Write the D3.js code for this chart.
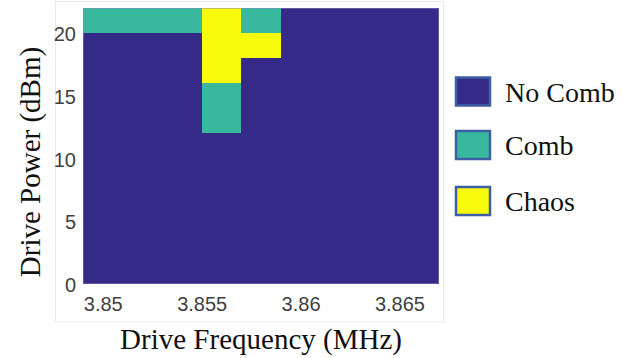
<!DOCTYPE html>
<html><head><meta charset="utf-8">
<script src="https://cdn.jsdelivr.net/npm/d3@7"></script>
<style>html,body{margin:0;padding:0;background:#fff;}svg{display:block;}</style>
</head><body>
<svg id="c" width="644" height="358"></svg>
<script>
// Data
const freqCenters = [3.850, 3.852, 3.854, 3.856, 3.858, 3.860, 3.862, 3.864, 3.866]; // MHz
const powerCenters = [21, 19, 17, 15, 13, 11, 9, 7, 5, 3, 1]; // dBm
// state per row (top to bottom), per column: 0 = No Comb, 1 = Comb, 2 = Chaos
const states = [
  [1,1,1,2,1,0,0,0,0],
  [0,0,0,2,2,0,0,0,0],
  [0,0,0,2,0,0,0,0,0],
  [0,0,0,1,0,0,0,0,0],
  [0,0,0,1,0,0,0,0,0],
  [0,0,0,0,0,0,0,0,0],
  [0,0,0,0,0,0,0,0,0],
  [0,0,0,0,0,0,0,0,0],
  [0,0,0,0,0,0,0,0,0],
  [0,0,0,0,0,0,0,0,0],
  [0,0,0,0,0,0,0,0,0]
];
const stateLabels = ["No Comb", "Comb", "Chaos"];
const stateColors = ["#352a87", "#38b99e", "#f9fb0e"];
const xTicks = [3.85, 3.855, 3.86, 3.865];
const yTicks = [0, 5, 10, 15, 20];
const cellW = 0.002, cellH = 2;

const svg = d3.select("#c");
const L = 83, R = 439, T = 8, B = 284;
const x = d3.scaleLinear().domain([3.849, 3.867]).range([L, R]);
const y = d3.scaleLinear().domain([0, 22]).range([B, T]);
const color = d3.scaleOrdinal().domain([0,1,2]).range(stateColors);

// panel frame
svg.append("rect").attr("x", 55.5).attr("y", 1.5).attr("width", 388).attr("height", 320.5)
  .attr("fill", "none").attr("stroke", "#e9e9e9").attr("stroke-width", 1);

const cells = [];
powerCenters.forEach((p, i) => freqCenters.forEach((f, j) => cells.push({f, p, s: states[i][j]})));
svg.append("g").attr("shape-rendering", "crispEdges").selectAll("rect").data(cells).join("rect")
  .attr("x", d => Math.round(x(d.f - cellW/2)))
  .attr("y", d => Math.round(y(d.p + cellH/2)))
  .attr("width", d => Math.round(x(d.f + cellW/2)) - Math.round(x(d.f - cellW/2)))
  .attr("height", d => Math.round(y(d.p - cellH/2)) - Math.round(y(d.p + cellH/2)))
  .attr("fill", d => color(d.s));

svg.append("rect").attr("x", L + 0.5).attr("y", T + 0.5).attr("width", R - L - 1).attr("height", B - T - 1)
  .attr("fill", "none").attr("stroke", "#8e88bd").attr("stroke-width", 1).attr("opacity", 0.5);

// axes
const xAxis = d3.axisBottom(x).tickValues(xTicks).tickSize(0).tickPadding(13).tickFormat(d3.format("~g"));
const gx = svg.append("g").attr("transform", `translate(0,${B})`).call(xAxis);
gx.select(".domain").remove();
gx.selectAll("text").attr("font-family", "Liberation Sans, Arial, sans-serif").attr("font-size", 20).attr("fill", "#404040");

const yAxis = d3.axisLeft(y).tickValues(yTicks).tickSize(0).tickPadding(7);
const gy = svg.append("g").attr("transform", `translate(${L},0)`).call(yAxis);
gy.select(".domain").remove();
gy.selectAll("text").attr("font-family", "Liberation Sans, Arial, sans-serif").attr("font-size", 20).attr("fill", "#404040").attr("dy", "0.38em");

// titles
svg.append("text").attr("x", (L + R) / 2).attr("y", 349).attr("text-anchor", "middle")
  .attr("font-family", "Liberation Serif, Times New Roman, serif").attr("font-size", 29).attr("fill", "#111")
  .text("Drive Frequency (MHz)");
svg.append("text").attr("transform", "translate(40,162) rotate(-90)").attr("text-anchor", "middle")
  .attr("font-family", "Liberation Serif, Times New Roman, serif").attr("font-size", 29).attr("fill", "#111")
  .text("Drive Power (dBm)");

// legend
const legY = [91.5, 145, 201];
const lg = svg.append("g").selectAll("g").data(stateLabels).join("g")
  .attr("transform", (d, i) => `translate(0,${legY[i]})`);
lg.append("rect").attr("x", 456).attr("y", -14).attr("width", 34).attr("height", 28)
  .attr("fill", (d, i) => stateColors[i]).attr("stroke", "#3d5fa3").attr("stroke-width", 2.5);
lg.append("text").attr("x", 505).attr("y", 10)
  .attr("font-family", "Liberation Serif, Times New Roman, serif").attr("font-size", 28).attr("fill", "#111")
  .text(d => d);
</script>
</body></html>
